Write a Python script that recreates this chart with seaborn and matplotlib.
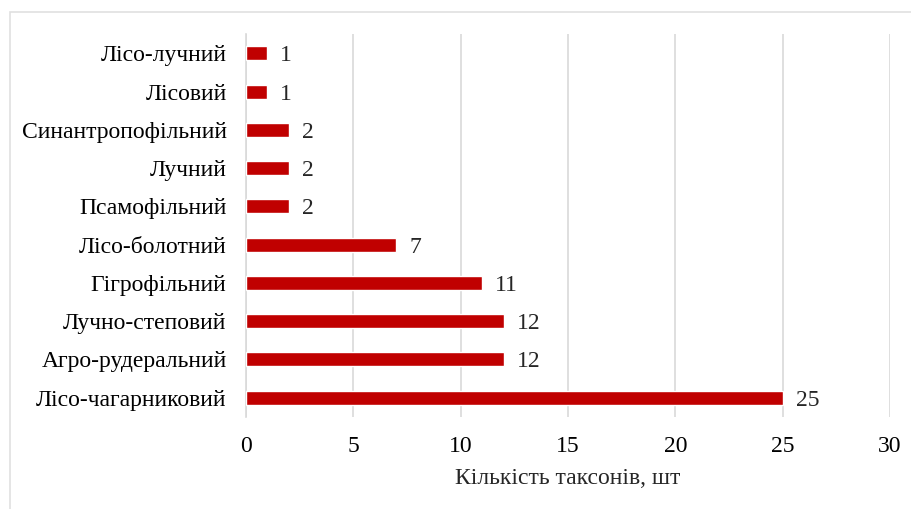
import matplotlib
matplotlib.use("Agg")
import matplotlib.pyplot as plt
import matplotlib.patches as mpatches
import seaborn as sns
import pandas as pd

categories = [
    "Лісо-лучний", "Лісовий", "Синантропофільний", "Лучний", "Псамофільний",
    "Лісо-болотний", "Гігрофільний", "Лучно-степовий", "Агро-рудеральний",
    "Лісо-чагарниковий",
]
counts = [1, 1, 2, 2, 2, 7, 11, 12, 12, 25]
x_ticks = [0, 5, 10, 15, 20, 25, 30]
x_label = "Кількість таксонів, шт"

df = pd.DataFrame({"category": categories, "count": counts})

sns.set_theme(style="white")
plt.rcParams["font.family"] = ["Liberation Serif", "DejaVu Serif"]

fig = plt.figure(figsize=(9.11, 5.09), dpi=100)
ax = fig.add_axes([0.270, 0.181, 0.707, 0.752])

# outer frame of the figure
fig.patches.append(mpatches.Rectangle((10 / 911, -0.05), 1.2, 1 - 12 / 509 + 0.05,
                                      transform=fig.transFigure, fill=False,
                                      edgecolor="#e0e0e0", linewidth=1.2, zorder=0))

sns.barplot(data=df, y="category", x="count", orient="h", color="#C00000",
            width=0.365, saturation=1, ax=ax, zorder=3)

for i, v in enumerate(counts):
    ax.text(v + 0.6, i, str(v), va="center_baseline", ha="left", fontsize=17,
            color="#262626")

ax.set_xlim(0, 30)
ax.set_xticks(x_ticks)
ax.set_ylim(9.5, -0.5)
ax.grid(axis="x", color="#d9d9d9", linewidth=1.2, zorder=0)
ax.grid(axis="y", visible=False)
for s in ["top", "right", "bottom"]:
    ax.spines[s].set_visible(False)
ax.spines["left"].set_color("#d9d9d9")
ax.spines["left"].set_linewidth(1.2)

ax.tick_params(axis="both", length=0, labelsize=17, colors="#000000")
ax.tick_params(axis="x", pad=14)
ax.tick_params(axis="y", pad=14)
for lbl in ax.get_yticklabels():
    lbl.set_verticalalignment("center_baseline")
ax.set_ylabel("")
ax.set_xlabel(x_label, fontsize=17, labelpad=8)

fig.savefig("out.png", dpi=100)
